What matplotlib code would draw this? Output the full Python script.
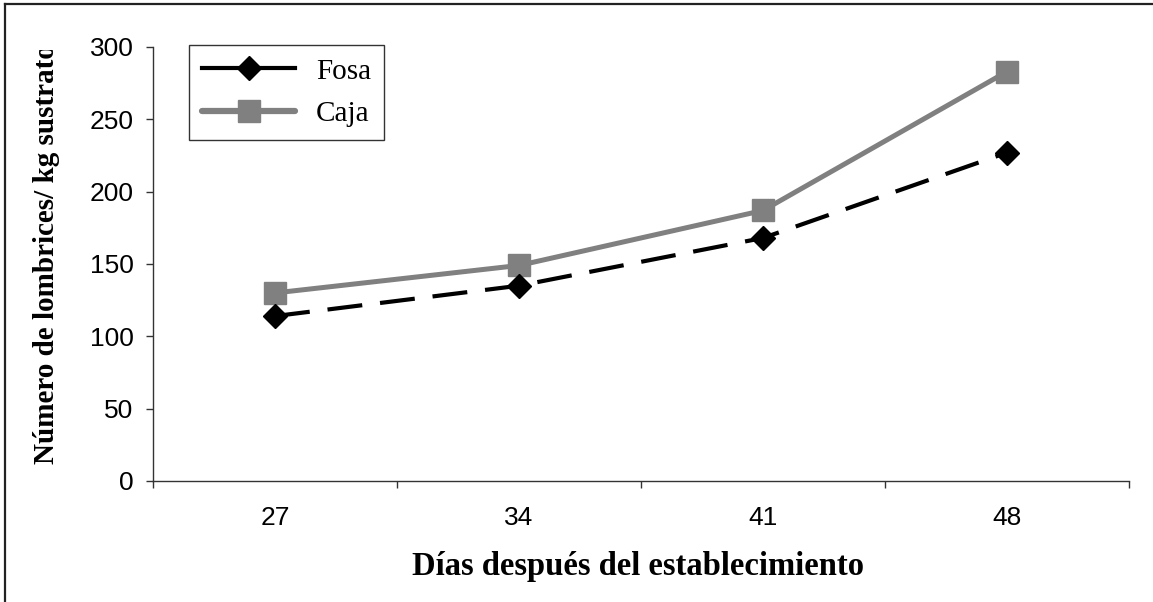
import matplotlib
matplotlib.use("Agg")
import matplotlib.pyplot as plt
from matplotlib.lines import Line2D
from matplotlib.transforms import Bbox

# datos
dias = ["27", "34", "41", "48"]
fosa = [114, 135, 168, 227]
caja = [130, 149, 187, 283]

W, H = 1153, 602
fig = plt.figure(figsize=(W / 100, H / 100), dpi=100)
ax = fig.add_axes([153 / W, 1 - 481 / H, (1129 - 153) / W, (481 - 47) / H])

x = list(range(len(dias)))
ax.plot(x, caja, color="#808080", lw=3.6, marker="s", ms=15.5,
        mfc="#808080", mec="#808080", solid_capstyle="round", zorder=3)
ax.plot(x, fosa, color="black", lw=3, ls=(0, (8.4, 4.3)), marker="D", ms=12,
        mfc="black", mec="black", zorder=4)

ax.set_xlim(-0.5, len(dias) - 0.5)
ax.set_ylim(0, 300)
ax.set_yticks(range(0, 301, 50))
ax.set_xticks(x)
ax.set_xticklabels(dias)
ax.set_xticks([i - 0.5 for i in range(len(dias) + 1)], minor=True)

for s in ["top", "right"]:
    ax.spines[s].set_visible(False)
for s in ["left", "bottom"]:
    ax.spines[s].set_color("#333333")
    ax.spines[s].set_linewidth(1)

ax.tick_params(axis="x", which="major", length=0, pad=18, labelsize=19,
               labelfontfamily="Liberation Sans")
ax.tick_params(axis="x", which="minor", length=5, width=1, color="#333333")
ax.tick_params(axis="y", length=5, width=1, color="#333333", pad=9,
               labelsize=19, labelfontfamily="Liberation Sans")

fig.text(638 / W, 1 - 567 / H, "Días después del establecimiento",
         ha="center", va="center", fontsize=23.5, fontweight="bold",
         family="Liberation Serif")

yl = fig.text(47 / W, 1 - 464 / H, "Número de lombrices/ kg sustrato",
              rotation=90, ha="center", va="bottom", fontsize=21,
              fontweight="bold", family="Liberation Serif")
yl.set_clip_on(True)
yl.set_clip_box(Bbox.from_extents(0, 0, W, H - 50))

handles = [
    Line2D([], [], color="black", lw=3, marker="D", ms=12, mfc="black"),
    Line2D([], [], color="#808080", lw=4.5, marker="s", ms=15.5,
           mfc="#808080", mec="#808080", solid_capstyle="round"),
]
leg = ax.legend(handles, ["Fosa", "Caja"], loc="upper left",
                bbox_to_anchor=(189 / W, 1 - 45 / H),
                bbox_transform=fig.transFigure, borderaxespad=0,
                prop={"family": "Liberation Serif", "size": 21},
                handlelength=3.2, handletextpad=0.7, labelspacing=0.55,
                borderpad=0.45, fancybox=False, framealpha=1)
leg.get_frame().set_edgecolor("#333333")
leg.get_frame().set_linewidth(1)

# borde superior e izquierdo de la figura
fig.add_artist(Line2D([5 / W, 1], [1 - 4 / H, 1 - 4 / H], color="#222222", lw=1.6))
fig.add_artist(Line2D([5 / W, 5 / W], [0, 1 - 4 / H], color="#222222", lw=1.6))

fig.savefig("out.png", dpi=100)
